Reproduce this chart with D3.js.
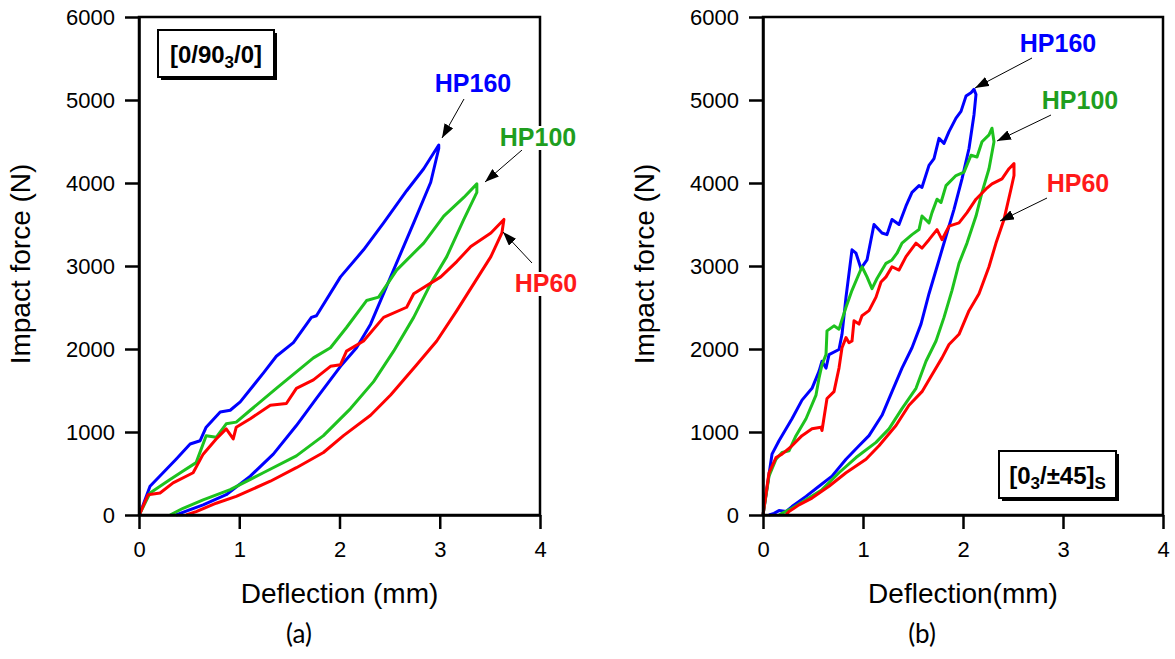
<!DOCTYPE html>
<html>
<head>
<meta charset="utf-8">
<script src="https://cdn.jsdelivr.net/npm/d3@7"></script>
<style>
  body { margin: 0; background: #fff; }
  svg { display: block; }
  .tick text { font-family: "Liberation Sans", Arial, sans-serif; font-size: 22px; fill: #000; }
</style>
</head>
<body>
<div id="chart"></div>
<script>
// ---- data (deflection mm, force N), loading path then unloading path ----
var xTicks = [0, 1, 2, 3, 4];
var yTicks = [0, 1000, 2000, 3000, 4000, 5000, 6000];
var seriesNames = ["HP160", "HP100", "HP60"];

// panel (a) [0/90_3/0]
var a_hp160 = [[0,0],[0.01,20],[0.11,346],[0.24,509],[0.37,672],[0.51,855],[0.61,895],[0.67,1058],[0.81,1241],[0.91,1262],[1.01,1363],[1.24,1709],[1.37,1913],[1.54,2076],[1.72,2381],[1.77,2401],[2.01,2869],[2.24,3195],[2.44,3520],[2.67,3907],[2.84,4172],[2.99,4457],
  [2.99,4416],[2.91,4009],[2.74,3519],[2.51,2869],[2.31,2299],[2.17,2014],[2.01,1791],[1.77,1404],[1.57,1078],[1.34,733],[1.11,468],[0.87,244],[0.64,122],[0.41,20],[0.37,0]];
var a_hp100 = [[0,0],[0.01,20],[0.11,265],[0.31,427],[0.44,529],[0.57,631],[0.67,956],[0.77,936],[0.87,1099],[0.97,1119],[1.11,1262],[1.37,1526],[1.74,1893],[1.91,2015],[2.07,2259],[2.27,2584],[2.39,2625],[2.57,2951],[2.84,3276],[3.04,3602],[3.24,3826],[3.37,3989],
  [3.37,3887],[3.24,3561],[3.07,3113],[2.91,2788],[2.74,2381],[2.54,1974],[2.34,1607],[2.11,1282],[1.84,956],[1.57,712],[1.24,509],[0.91,305],[0.64,183],[0.44,81],[0.31,0]];
var a_hp60 = [[0,0],[0.01,20],[0.09,244],[0.21,265],[0.34,387],[0.54,509],[0.64,733],[0.77,916],[0.87,1038],[0.94,916],[0.97,1058],[1.11,1160],[1.31,1323],[1.47,1343],[1.57,1526],[1.74,1628],[1.91,1791],[2.01,1811],[2.07,1974],[2.24,2096],[2.44,2381],[2.67,2503],[2.74,2666],[3.01,2869],[3.17,3053],[3.31,3236],[3.51,3398],[3.64,3561],
  [3.62,3398],[3.51,3113],[3.34,2788],[3.17,2462],[2.97,2096],[2.77,1811],[2.51,1445],[2.31,1201],[2.04,956],[1.84,753],[1.57,570],[1.31,407],[0.97,224],[0.77,142],[0.57,41],[0.47,0]];

// panel (b) [0_3/±45]s
var b_hp160 = [[0,0],[0.09,733],[0.16,895],[0.29,1160],[0.39,1384],[0.49,1526],[0.56,1730],[0.59,1852],[0.63,1770],[0.66,1933],[0.76,1994],[0.79,2177],[0.83,2625],[0.89,3195],[0.93,3154],[0.98,2971],[1.04,3073],[1.11,3500],[1.19,3398],[1.24,3378],[1.29,3561],[1.36,3500],[1.43,3724],[1.49,3887],[1.56,3968],[1.59,3948],[1.66,4212],[1.71,4294],[1.76,4538],[1.81,4477],[1.86,4619],[1.93,4782],[1.98,4863],[2.03,5047],[2.08,5088],[2.11,5128],
  [2.13,5067],[2.11,4823],[2.06,4416],[1.99,4050],[1.91,3683],[1.83,3358],[1.74,2991],[1.66,2666],[1.58,2300],[1.49,2015],[1.39,1770],[1.29,1486],[1.19,1201],[1.06,956],[0.96,834],[0.83,672],[0.69,468],[0.56,346],[0.43,224],[0.29,102],[0.23,41],[0.16,53],[0.11,20],[0.06,0]];
var b_hp100 = [[0,0],[0.06,468],[0.13,672],[0.19,753],[0.26,773],[0.33,956],[0.43,1160],[0.53,1445],[0.56,1648],[0.59,1811],[0.63,1933],[0.64,2218],[0.71,2279],[0.76,2239],[0.83,2503],[0.89,2707],[0.99,2991],[1.04,2869],[1.09,2727],[1.14,2849],[1.23,3032],[1.29,3073],[1.34,3154],[1.39,3276],[1.49,3378],[1.56,3439],[1.59,3602],[1.66,3520],[1.69,3643],[1.74,3805],[1.78,3765],[1.83,3968],[1.93,4090],[2.01,4131],[2.08,4334],[2.14,4314],[2.19,4497],[2.26,4579],[2.29,4660],
  [2.31,4497],[2.26,4172],[2.19,3887],[2.13,3602],[2.04,3276],[1.96,3032],[1.89,2707],[1.81,2381],[1.73,2096],[1.63,1852],[1.53,1526],[1.39,1282],[1.26,1038],[1.13,875],[0.93,692],[0.76,509],[0.59,305],[0.43,183],[0.29,81],[0.19,20],[0.16,0]];
var b_hp60 = [[0,0],[0.06,509],[0.13,692],[0.19,733],[0.29,834],[0.39,956],[0.49,1038],[0.58,1058],[0.59,1018],[0.64,1404],[0.71,1486],[0.76,1770],[0.79,2015],[0.83,2137],[0.86,2076],[0.89,2096],[0.91,2340],[0.96,2300],[0.99,2401],[1.06,2462],[1.13,2625],[1.18,2808],[1.23,2869],[1.29,2991],[1.36,2951],[1.43,3113],[1.53,3276],[1.59,3215],[1.66,3317],[1.74,3439],[1.79,3317],[1.86,3480],[1.96,3520],[2.04,3643],[2.13,3805],[2.23,3928],[2.29,3989],[2.39,4050],[2.46,4172],[2.51,4233],
  [2.51,4090],[2.48,3928],[2.41,3561],[2.33,3276],[2.26,2991],[2.16,2666],[2.06,2462],[1.96,2177],[1.86,2055],[1.79,1893],[1.69,1689],[1.59,1486],[1.46,1323],[1.33,1079],[1.16,834],[1.03,672],[0.83,509],[0.66,346],[0.49,204],[0.36,122],[0.26,41],[0.23,0]];

var lineColors = {"HP160": "#0000ff", "HP100": "#1ec21e", "HP60": "#ff0000"};
var labelColors = {"HP160": "#0000ff", "HP100": "#1f9e1f", "HP60": "#ff1a1a"};

var width = 1175, height = 659;
var svg = d3.select("#chart").append("svg").attr("width", width).attr("height", height);

var defs = svg.append("defs");
defs.append("marker").attr("id", "arrow")
    .attr("viewBox", "0 0 14 10").attr("refX", 14).attr("refY", 5)
    .attr("markerWidth", 14).attr("markerHeight", 10)
    .attr("markerUnits", "userSpaceOnUse").attr("orient", "auto")
  .append("path").attr("d", "M0,0 L14,5 L0,10 Z").attr("fill", "#000");

var y = d3.scaleLinear().domain([0, 6000]).range([515, 17]);

function panel(left, right, curves, labels, box, caption, capX, xTitle){
    var x = d3.scaleLinear().domain([0, 4]).range([left, right]);
    var g = svg.append("g");

    // curves
    var line = d3.line().x(function(d){ return x(d[0]); }).y(function(d){ return y(d[1]); });
    curves.forEach(function(c){
        g.append("path").datum(c.data)
            .attr("d", line)
            .attr("fill", "none")
            .attr("stroke", lineColors[c.name])
            .attr("stroke-width", 3)
            .attr("stroke-linejoin", "round");
    });

    // frame (top, right)
    g.append("rect").attr("x", left).attr("y", y(6000))
        .attr("width", right - left).attr("height", y(0) - y(6000))
        .attr("fill", "none").attr("stroke", "#000").attr("stroke-width", 2.5);

    g.append("g").attr("transform", "translate(0," + y(0) + ")")
        .call(d3.axisBottom(x).tickValues(xTicks).tickSize(14).tickSizeOuter(0).tickPadding(12).tickFormat(d3.format("d")));
    g.append("g").attr("transform", "translate(" + left + ",0)")
        .call(d3.axisLeft(y).tickValues(yTicks).tickSize(14).tickSizeOuter(0).tickPadding(10).tickFormat(d3.format("d")));
    g.selectAll(".domain").attr("stroke-width", 2.5);
    g.selectAll(".tick line").attr("stroke-width", 2.5);

    g.append("text")
        .attr("transform", "translate(" + (left - 109) + ",264) rotate(-90)")
        .attr("text-anchor", "middle")
        .style("font-family", "Liberation Sans, Arial, sans-serif")
        .style("font-size", "28px")
        .text("Impact force (N)");
    g.append("text")
        .attr("x", (left + right) / 2).attr("y", 603)
        .attr("text-anchor", "middle")
        .style("font-family", "Liberation Sans, Arial, sans-serif")
        .style("font-size", "28px")
        .text(xTitle);
    g.append("text")
        .attr("x", capX).attr("y", 643)
        .attr("text-anchor", "middle")
        .style("font-family", "Lato, sans-serif")
        .style("font-size", "26px")
        .text(caption);

    // labels + arrows
    labels.forEach(function(l){
        g.append("line")
            .attr("x1", l.from[0]).attr("y1", l.from[1])
            .attr("x2", l.to[0]).attr("y2", l.to[1])
            .attr("stroke", "#000").attr("stroke-width", 1)
            .attr("marker-end", "url(#arrow)");
        var t = g.append("text")
            .attr("x", l.pos[0]).attr("y", l.pos[1])
            .attr("text-anchor", "middle")
            .style("font-family", "Liberation Sans, Arial, sans-serif")
            .style("font-size", "25px").style("font-weight", "bold")
            .attr("fill", labelColors[l.name])
            .text(l.name);
        var bb = t.node().getBBox();
        g.insert("rect", function(){ return t.node(); })
            .attr("x", bb.x - 1).attr("y", bb.y + 3).attr("width", bb.width + 2).attr("height", bb.height - 4)
            .attr("fill", "#fff");
    });

    // layup box with shadow
    g.append("rect").attr("x", box.x + 3).attr("y", box.y + 3).attr("width", box.w).attr("height", box.h).attr("fill", "#000");
    g.append("rect").attr("x", box.x).attr("y", box.y).attr("width", box.w).attr("height", box.h)
        .attr("fill", "#fff").attr("stroke", "#000").attr("stroke-width", 2);
    var bt = g.append("text").attr("x", box.x + box.w / 2).attr("y", box.y + box.h / 2 + 9)
        .attr("text-anchor", "middle")
        .style("font-family", "Liberation Sans, Arial, sans-serif")
        .style("font-size", "24px").style("font-weight", "bold");
    box.parts.forEach(function(p){
        var s = bt.append("tspan").text(p[0]);
        if (p[1]) s.attr("baseline-shift", "-30%").style("font-size", "17px");
    });
}

panel(139, 540,
    [{name: "HP160", data: a_hp160}, {name: "HP100", data: a_hp100}, {name: "HP60", data: a_hp60}],
    [{name: "HP160", pos: [473, 92], from: [464, 99], to: [442, 138]},
     {name: "HP100", pos: [538, 146], from: [522, 150], to: [485, 182]},
     {name: "HP60", pos: [546, 292], from: [532, 263], to: [503, 232]}],
    {x: 158, y: 30, w: 116, h: 47, parts: [["[0/90", false], ["3", true], ["/0]", false]]},
    "(a)", 299, "Deflection (mm)");

panel(763, 1163,
    [{name: "HP160", data: b_hp160}, {name: "HP100", data: b_hp100}, {name: "HP60", data: b_hp60}],
    [{name: "HP160", pos: [1058, 52], from: [1032, 58], to: [975, 88]},
     {name: "HP100", pos: [1080, 109], from: [1051, 115], to: [997, 141]},
     {name: "HP60", pos: [1078, 192], from: [1047, 198], to: [1000, 221]}],
    {x: 999, y: 451, w: 117, h: 47, parts: [["[0", false], ["3", true], ["/\u00b145]", false], ["S", true]]},
    "(b)", 922, "Deflection(mm)");
</script>
</body>
</html>
